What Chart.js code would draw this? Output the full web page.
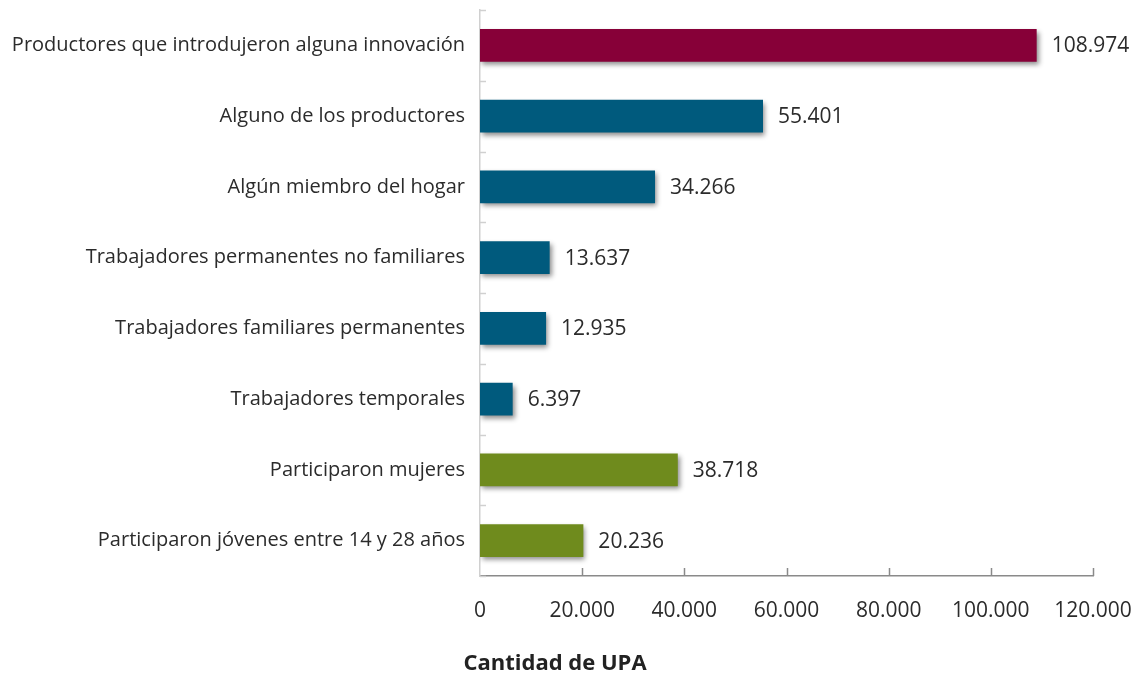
<!DOCTYPE html>
<html>
<head>
<meta charset="utf-8">
<script src="https://cdn.jsdelivr.net/npm/chart.js@4"></script>
<style>
html,body{margin:0;padding:0;background:#fff;}
#wrap{width:1136px;height:675px;position:relative;}
</style>
</head>
<body>
<div id="wrap"><canvas id="c" width="1136" height="675"></canvas></div>
<script>
const categories = [
  "Productores que introdujeron alguna innovación",
  "Alguno de los productores",
  "Algún miembro del hogar",
  "Trabajadores permanentes no familiares",
  "Trabajadores familiares permanentes",
  "Trabajadores temporales",
  "Participaron mujeres",
  "Participaron jóvenes entre 14 y 28 años"
];
const values = [108974, 55401, 34266, 13637, 12935, 6397, 38718, 20236];
const barColors = ["#870038","#005A7D","#005A7D","#005A7D","#005A7D","#005A7D","#6F8B1D","#6F8B1D"];
const xTicks = [0, 20000, 40000, 60000, 80000, 100000, 120000];
const axisTitle = "Cantidad de UPA";

function fmt(n){
  return String(Math.round(n)).replace(/\B(?=(\d{3})+(?!\d))/g, ".");
}

const FONT = "'Open Sans', 'Noto Sans', sans-serif";

const shadowPlugin = {
  id: 'shadow',
  beforeDatasetsDraw(chart){
    const ctx = chart.ctx;
    ctx.save();
    ctx.shadowColor = 'rgba(0,0,0,0.45)';
    ctx.shadowBlur = 5;
    ctx.shadowOffsetX = 2;
    ctx.shadowOffsetY = 3;
  },
  afterDatasetsDraw(chart){
    chart.ctx.restore();
  }
};

const decoPlugin = {
  id: 'deco',
  afterDraw(chart){
    const ctx = chart.ctx;
    const x = chart.scales.x, y = chart.scales.y;
    const area = chart.chartArea;
    ctx.save();
    ctx.strokeStyle = '#8a8a8a';
    ctx.lineWidth = 1.5;
    xTicks.forEach(v => {
      if (v === 0) return;
      const px = Math.round(x.getPixelForValue(v)) + 0.5;
      ctx.beginPath();
      ctx.moveTo(px, area.bottom);
      ctx.lineTo(px, area.bottom - 8);
      ctx.stroke();
    });
    ctx.strokeStyle = '#d0d0d0';
    ctx.lineWidth = 1.5;
    const n = categories.length;
    for (let i = 0; i <= n; i++) {
      let py;
      if (i === 0) py = area.top; else if (i === n) py = area.bottom;
      else py = (y.getPixelForValue(i - 1) + y.getPixelForValue(i)) / 2;
      py = Math.round(py) + 0.5;
      ctx.beginPath();
      ctx.moveTo(area.left, py);
      ctx.lineTo(area.left + 6, py);
      ctx.stroke();
    }
    ctx.fillStyle = '#2b2b2b';
    ctx.font = "21px " + FONT;
    ctx.textAlign = 'left';
    ctx.textBaseline = 'middle';
    const meta = chart.getDatasetMeta(0);
    meta.data.forEach((bar, i) => {
      ctx.fillText(fmt(values[i]), bar.x + 15, bar.y + 1);
    });
    ctx.font = "bold 22px " + FONT;
    ctx.textAlign = 'center';
    ctx.fillStyle = '#222222';
    ctx.fillText(axisTitle, 555, 664);
    ctx.restore();
  }
};

function zeroPad(s){ s.paddingTop = 0; s.paddingBottom = 0; s.paddingLeft = 0; s.paddingRight = 0; }

new Chart(document.getElementById('c'), {
  type: 'bar',
  data: {
    labels: categories,
    datasets: [{
      data: values,
      backgroundColor: barColors,
      borderWidth: 0,
      barPercentage: 0.465,
      categoryPercentage: 1.0
    }]
  },
  options: {
    indexAxis: 'y',
    responsive: false,
    animation: false,
    devicePixelRatio: 1,
    layout: { padding: { left: 0, right: 43, top: 10, bottom: 0 } },
    plugins: {
      legend: { display: false },
      tooltip: { enabled: false },
      title: { display: false }
    },
    scales: {
      x: {
        min: 0, max: 120000,
        afterBuildTicks(s){ s.ticks = xTicks.map(v => ({value: v})); },
        afterFit(s){ s.height = 99; zeroPad(s); },
        grid: { display: false, drawTicks: false },
        border: { display: true, color: '#8a8a8a', width: 1.5 },
        ticks: {
          padding: 22,
          color: '#2b2b2b',
          font: { family: FONT, size: 21 },
          callback: v => fmt(v),
          maxRotation: 0
        }
      },
      y: {
        afterFit(s){ s.width = 480; zeroPad(s); },
        grid: { display: false, drawTicks: false },
        border: { display: true, color: '#d0d0d0', width: 1.5 },
        ticks: {
          padding: 15,
          color: '#2b2b2b',
          font: { family: FONT, size: 20 }
        }
      }
    }
  },
  plugins: [shadowPlugin, decoPlugin]
});
</script>
</body>
</html>
